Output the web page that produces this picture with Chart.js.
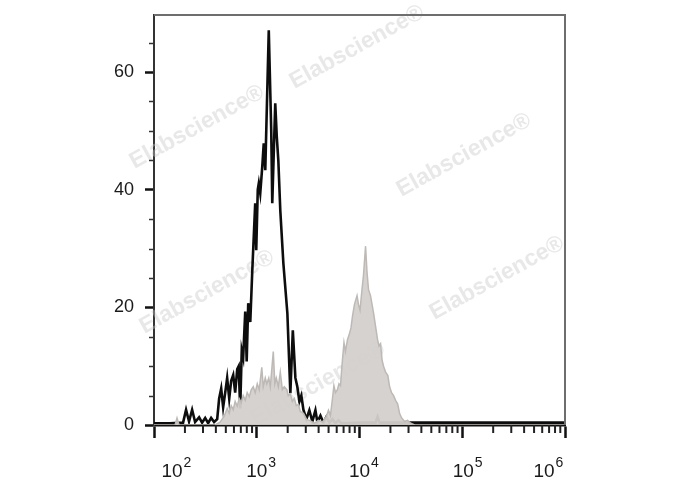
<!DOCTYPE html>
<html>
<head>
<meta charset="utf-8">
<script src="https://cdn.jsdelivr.net/npm/chart.js@4"></script>
<style>
html,body{margin:0;padding:0;background:#fff;}
#wrap{width:688px;height:490px;position:relative;}
</style>
</head>
<body>
<div id="wrap"><canvas id="c" width="688" height="490"></canvas></div>
<script>
// ---- data (x stored as log10 of fluorescence intensity) ----
const decadeTicks = [100, 1000, 10000, 100000, 1000000];
const decadeExponents = ['2', '3', '4', '5', '6'];
const yTickValues = [0, 20, 40, 60];

const stainedLog10X = [2.000,2.156,2.283,2.312,2.341,2.371,2.400,2.439,2.468,2.498,2.527,2.556,2.585,2.615,2.634,2.654,2.673,2.693,2.712,2.732,2.751,2.771,2.790,2.810,2.824,2.839,2.854,2.868,2.888,2.902,2.917,2.937,2.956,2.985,2.995,3.010,3.020,3.034,3.054,3.068,3.083,3.117,3.141,3.151,3.180,3.195,3.210,3.229,3.259,3.298,3.327,3.351,3.376,3.395,3.415,3.434,3.454,3.483,3.512,3.541,3.571,3.590,3.620,3.649,3.678,3.707,3.737,3.766,3.795,3.824,4.010,4.156,4.176,4.195,5.990];
const stainedCount  = [0.3,0.3,0.4,2.6,0.6,2.6,0.5,1.3,0.4,1.2,0.3,1.2,0.5,1.0,4.5,6.2,3.0,5.5,8.0,4.5,7.5,8.5,5.5,9.5,10.0,2.8,12.7,11.5,19.3,10.8,20.7,17.5,26.0,37.7,29.7,40.0,41.1,39.4,44.0,47.9,43.3,67.1,50.0,37.7,54.7,49.0,45.0,36.5,27.5,19.0,5.4,16.1,8.0,6.5,4.0,5.0,2.6,1.0,2.5,0.6,2.5,0.5,1.6,0.4,1.4,0.4,1.0,0.3,0.8,0.3,0.4,0.4,1.4,0.4,0.4];

const controlLog10X = [2.000,2.205,2.224,2.244,2.595,2.644,2.683,2.712,2.732,2.751,2.771,2.790,2.810,2.829,2.849,2.868,2.888,2.907,2.927,2.946,2.966,2.985,3.005,3.024,3.049,3.063,3.083,3.098,3.117,3.132,3.161,3.176,3.190,3.210,3.229,3.249,3.268,3.293,3.307,3.327,3.346,3.366,3.385,3.405,3.424,3.454,3.483,3.522,3.561,3.600,3.639,3.678,3.698,3.717,3.737,3.751,3.766,3.785,3.800,3.815,3.829,3.849,3.863,3.883,3.902,3.917,3.932,3.951,3.976,3.990,4.005,4.024,4.039,4.059,4.073,4.088,4.107,4.122,4.137,4.156,4.176,4.190,4.205,4.220,4.234,4.254,4.276,4.293,4.312,4.332,4.351,4.371,4.390,4.410,4.439,4.468,4.498,4.537,5.990];
const controlCount  = [0,0,1.2,0,0,0.5,1.5,2.8,2.0,3.3,2.6,4.0,3.2,4.5,3.8,5.0,4.2,5.5,4.8,6.0,6.5,5.5,7.0,6.0,9.8,6.5,8.0,7.0,8.0,6.5,12.5,7.0,8.0,6.5,9.0,6.0,6.5,6.0,5.0,5.3,4.0,4.5,3.3,3.5,2.3,2.0,1.0,0.7,0.3,0.8,0.5,1.5,2.5,1.6,4.5,6.7,5.5,6.0,7.0,6.7,10.0,14.0,12.5,14.5,15.5,16.5,18.5,20.5,22.0,20.5,19.5,23.0,25.5,30.4,26.0,23.0,22.0,20.5,19.0,16.8,14.5,13.4,13.8,11.0,10.0,9.0,8.4,6.5,5.5,5.0,4.2,3.6,2.0,1.2,0.6,0.8,0.3,0,0];

const watermarkText = 'Elabscience\u00AE';

// ---- build points ----
const toPoints = (lx, ys) => lx.map((v, i) => ({x: Math.pow(10, v), y: ys[i]}));

const FONT = '"Liberation Sans", Arial, Helvetica, sans-serif';

const decorPlugin = {
  id: 'decor',
  beforeDatasetsDraw(chart) {
    const ctx = chart.ctx;
    const wm = [[197,127],[357,47],[464,155],[497,278],[207,292],[318,384]];
    ctx.save();
    ctx.font = 'bold 23px ' + FONT;
    ctx.fillStyle = 'rgba(200,200,200,0.42)';
    ctx.textAlign = 'center';
    ctx.textBaseline = 'middle';
    wm.forEach(([cx, cy]) => {
      ctx.save();
      ctx.translate(cx, cy);
      ctx.rotate(-29 * Math.PI / 180);
      ctx.fillText(watermarkText, 0, 0);
      ctx.restore();
    });
    ctx.restore();
  },
  afterDraw(chart) {
    const ctx = chart.ctx;
    const xs = chart.scales.x, ys = chart.scales.y;
    const a = chart.chartArea;
    ctx.save();
    // top/right frame
    ctx.strokeStyle = '#6e6e6e';
    ctx.lineWidth = 2;
    ctx.beginPath();
    ctx.moveTo(a.left, a.top);
    ctx.lineTo(a.right, a.top);
    ctx.lineTo(a.right, a.bottom);
    ctx.stroke();
    // y minor ticks every 5
    ctx.strokeStyle = '#333';
    ctx.lineWidth = 1.5;
    for (let v = 5; v < ys.max; v += 5) {
      if (v % 20 === 0) continue;
      const p = Math.round(ys.getPixelForValue(v)) + 0.5;
      ctx.beginPath();
      ctx.moveTo(a.left - 5, p);
      ctx.lineTo(a.left, p);
      ctx.stroke();
    }
    // x minor ticks 2..9 per decade
    ctx.strokeStyle = '#222';
    ctx.lineWidth = 2;
    for (let d = 0; d < decadeTicks.length - 1; d++) {
      for (let k = 2; k <= 9; k++) {
        const p = xs.getPixelForValue(decadeTicks[d] * k);
        ctx.beginPath();
        ctx.moveTo(p, a.bottom);
        ctx.lineTo(p, a.bottom + 8);
        ctx.stroke();
      }
    }
    // x tick labels: 10 with superscript exponent
    const shifts = [18, 0, 0, 1, -21];
    ctx.fillStyle = '#1a1a1a';
    ctx.textBaseline = 'alphabetic';
    decadeTicks.forEach((v, i) => {
      const cx = xs.getPixelForValue(v) + shifts[i];
      ctx.font = '19px ' + FONT;
      ctx.textAlign = 'center';
      const w = ctx.measureText('10').width;
      ctx.fillText('10', cx, 477);
      ctx.font = '14px ' + FONT;
      ctx.textAlign = 'left';
      ctx.fillText(decadeExponents[i], cx + w / 2 + 1, 467);
    });
    ctx.restore();
  }
};

new Chart(document.getElementById('c'), {
  type: 'line',
  data: {
    datasets: [
      {
        label: 'Isotype control',
        data: toPoints(controlLog10X, controlCount),
        borderColor: '#bdb9b6',
        backgroundColor: 'rgba(212,208,205,0.95)',
        borderWidth: 1.5,
        fill: 'origin',
        pointRadius: 0,
        tension: 0
      },
      {
        label: 'Stained',
        data: toPoints(stainedLog10X, stainedCount),
        borderColor: '#0d0d0d',
        borderWidth: 2.6,
        fill: false,
        pointRadius: 0,
        tension: 0,
        borderJoinStyle: 'miter'
      }
    ]
  },
  options: {
    responsive: false,
    animation: false,
    devicePixelRatio: 1,
    layout: {padding: {top: 15, right: 123, left: 0, bottom: 0}},
    plugins: {legend: {display: false}, tooltip: {enabled: false}},
    scales: {
      x: {
        type: 'logarithmic',
        min: 100,
        max: 1000000,
        afterBuildTicks: s => { s.ticks = decadeTicks.map(v => ({value: v, major: true})); },
        afterFit: s => { s.height = 65; s.paddingLeft = 0; s.paddingRight = 0; },
        ticks: {display: false},
        grid: {drawOnChartArea: false, drawTicks: true, tickLength: 13, tickWidth: 2.5, tickColor: '#111'},
        border: {display: true, color: '#111', width: 2.5}
      },
      y: {
        type: 'linear',
        min: 0,
        max: 69.7,
        afterBuildTicks: s => { s.ticks = yTickValues.map(v => ({value: v})); },
        afterFit: s => { s.width = 154; s.paddingTop = 0; s.paddingBottom = 0; },
        ticks: {
          padding: 11,
          color: '#1a1a1a',
          font: {family: FONT, size: 18},
          callback: v => String(v)
        },
        grid: {drawOnChartArea: false, drawTicks: true, tickLength: 9, tickWidth: 2.5, tickColor: '#111'},
        border: {display: true, color: '#333', width: 2}
      }
    }
  },
  plugins: [decorPlugin]
});
</script>
</body>
</html>
